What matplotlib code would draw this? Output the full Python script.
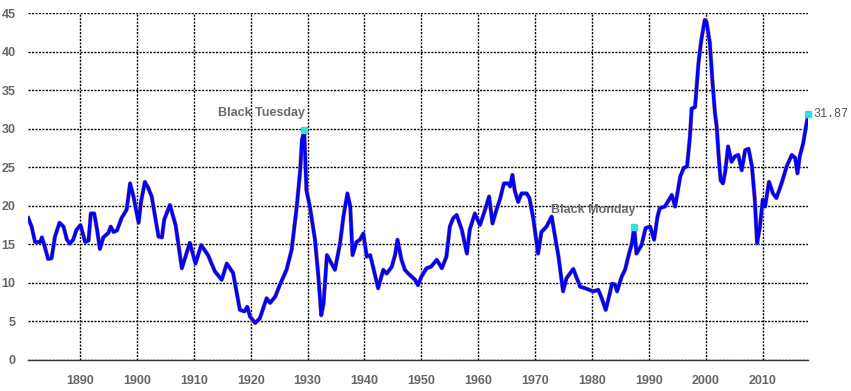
import matplotlib
matplotlib.use("Agg")
import matplotlib.pyplot as plt

years = [1880.9, 1881.5, 1882.1, 1883.0, 1883.3, 1883.8, 1884.4, 1885.0, 1885.6, 1886.4,
         1887.1, 1887.7, 1888.2, 1888.8, 1889.4, 1890.1, 1890.9, 1891.5, 1891.9, 1892.5,
         1893.0, 1893.5, 1894.1, 1895.0, 1895.4, 1895.9, 1896.5, 1897.3, 1898.2, 1898.8,
         1899.4, 1900.3, 1900.7, 1901.4, 1902.0, 1902.6, 1903.2, 1903.8, 1904.4, 1904.8,
         1905.8, 1906.8, 1907.9, 1909.3, 1910.3, 1911.3, 1912.5, 1913.7, 1914.9, 1915.8,
         1916.9, 1917.5, 1918.1, 1918.9, 1919.4, 1919.9, 1920.8, 1921.6, 1922.8, 1923.4,
         1924.3, 1925.1, 1926.3, 1927.2, 1928.1, 1928.7, 1929.0, 1929.4, 1929.8, 1930.4,
         1931.3, 1931.9, 1932.4, 1932.8, 1933.4, 1934.2, 1934.8, 1935.7, 1936.3, 1937.0,
         1937.5, 1937.9, 1938.6, 1939.2, 1939.8, 1940.4, 1941.0, 1941.5, 1942.4, 1943.3,
         1943.9, 1944.8, 1945.4, 1945.8, 1946.5, 1947.1, 1947.7, 1948.3, 1948.9, 1949.4,
         1950.0, 1950.9, 1951.7, 1952.7, 1953.6, 1954.4, 1955.0, 1955.6, 1956.2, 1957.1,
         1958.0, 1958.5, 1959.4, 1960.3, 1961.2, 1961.9, 1962.5, 1963.2, 1963.8, 1964.5,
         1965.3, 1965.6, 1966.0, 1966.4, 1967.0, 1967.6, 1968.5, 1969.0, 1969.7, 1970.5,
         1971.1, 1972.0, 1972.9, 1973.1, 1974.1, 1974.9, 1975.5, 1976.7, 1977.9, 1978.8,
         1980.2, 1981.1, 1981.7, 1982.4, 1983.1, 1983.5, 1984.0, 1984.4, 1985.2, 1985.8,
         1986.5, 1987.0, 1987.4, 1987.8, 1988.7, 1989.4, 1990.2, 1990.9, 1991.5, 1991.9,
         1992.8, 1993.7, 1994.0, 1994.6, 1995.5, 1996.1, 1996.7, 1997.2, 1997.5, 1998.1,
         1998.7, 1999.2, 1999.8, 2000.1, 2000.7, 2001.1, 2001.6, 2001.9, 2002.3, 2002.6,
         2003.0, 2003.4, 2003.9, 2004.5, 2005.1, 2005.7, 2006.3, 2006.9, 2007.5, 2008.1,
         2008.6, 2009.0, 2009.5, 2010.0, 2010.4, 2011.1, 2011.8, 2012.4, 2013.3, 2014.2,
         2015.1, 2015.7, 2016.1, 2016.5, 2017.1, 2017.6, 2018.0]
cape = [18.4, 17.3, 15.3, 15.3, 15.9, 14.7, 13.1, 13.2, 16.0, 17.8,
        17.3, 15.6, 15.1, 15.6, 16.9, 17.5, 15.3, 15.5, 19.0, 19.0,
        16.9, 14.4, 15.9, 16.5, 17.3, 16.6, 16.8, 18.4, 19.5, 22.9,
        21.2, 17.8, 20.4, 23.1, 22.3, 21.2, 18.6, 16.0, 15.9, 18.2,
        20.1, 17.5, 11.9, 15.2, 12.5, 14.9, 13.6, 11.5, 10.4, 12.5,
        11.3, 8.9, 6.5, 6.3, 6.9, 5.6, 4.8, 5.4, 8.0, 7.4,
        8.2, 9.7, 11.7, 14.3, 19.9, 24.6, 28.5, 29.8, 22.0, 19.9,
        15.6, 10.8, 5.8, 7.3, 13.6, 12.5, 11.7, 15.1, 18.6, 21.6,
        19.9, 13.6, 15.3, 15.6, 16.4, 13.4, 13.6, 12.1, 9.3, 11.7,
        11.2, 12.1, 13.7, 15.6, 13.0, 11.7, 11.2, 10.8, 10.4, 9.7,
        10.8, 11.9, 12.1, 13.0, 11.9, 13.4, 17.3, 18.4, 18.8, 16.9,
        13.8, 16.9, 19.0, 17.5, 19.5, 21.2, 17.7, 19.5, 20.8, 22.9,
        22.9, 22.5, 24.0, 22.0, 20.5, 21.6, 21.6, 21.0, 18.2, 13.8,
        16.6, 17.3, 18.6, 17.7, 13.4, 8.9, 10.6, 11.8, 9.5, 9.3,
        8.9, 9.1, 8.0, 6.5, 8.6, 9.9, 9.8, 8.9, 10.8, 11.7,
        13.8, 15.1, 17.3, 13.8, 14.9, 17.1, 17.3, 15.6, 18.6, 19.7,
        19.9, 21.0, 21.4, 19.9, 23.8, 24.9, 25.1, 29.0, 32.6, 32.8,
        38.5, 41.5, 44.1, 43.9, 41.1, 36.7, 32.0, 30.3, 25.9, 23.3,
        22.9, 24.4, 27.7, 25.7, 26.4, 26.6, 24.6, 27.2, 27.4, 25.1,
        20.8, 15.1, 17.3, 20.8, 19.9, 23.1, 21.6, 21.0, 22.9, 25.1,
        26.6, 26.2, 24.2, 26.4, 28.1, 30.3, 31.87]

events = ["Black Tuesday", "Black Monday"]
event_years = [1929.4, 1987.4]
event_values = [29.8, 17.3]
last_label = "31.87"

yticks = [0, 5, 10, 15, 20, 25, 30, 35, 40, 45]
xticks = [1890, 1900, 1910, 1920, 1930, 1940, 1950, 1960, 1970, 1980, 1990, 2000, 2010]

fig = plt.figure(figsize=(8.51, 3.91), dpi=100)
ax = fig.add_axes([28/851, 31/391, 780/851, 347/391])

ax.plot(years, cape, color="#d9a870", lw=3.2, solid_joinstyle="round", zorder=3)
ax.plot(years, cape, color="#0000ff", lw=2.5, solid_joinstyle="round", zorder=4)

marker_col = "#33e0d8"
for name, yr, v in zip(events, event_years, event_values):
    ax.plot([yr], [v], "s", color=marker_col, ms=4.5, zorder=5, clip_on=False)
    ax.text(yr + 0.2, v + 1.4, name, ha="right", va="bottom", fontsize=9,
            fontweight="bold", color="#6a6a6a", family="Liberation Sans")
ax.plot([years[-1]], [cape[-1]], "s", color=marker_col, ms=4.5, zorder=5, clip_on=False)
ax.text(years[-1] + 0.9, cape[-1], last_label, ha="left", va="center", fontsize=8.5,
        color="#555555", family="Liberation Mono")

ax.set_xlim(1880.86, 2017.95)
ax.set_ylim(0, 45)
ax.set_yticks(yticks)
ax.set_xticks(xticks)
ax.grid(True, color="black", linestyle=(0, (1.5, 1)), linewidth=1.0)
ax.set_axisbelow(True)
for s in ["left", "right", "top"]:
    ax.spines[s].set_visible(False)
ax.spines["bottom"].set_color("#333333")
ax.spines["bottom"].set_linewidth(1.0)
ax.tick_params(length=0, labelsize=9, labelcolor="#666666")
ax.tick_params(axis="y", pad=9)
ax.tick_params(axis="x", pad=11)
for lab in ax.get_xticklabels() + ax.get_yticklabels():
    lab.set_fontweight("bold")
    lab.set_family("Liberation Sans")

fig.savefig("out.png", dpi=100)
